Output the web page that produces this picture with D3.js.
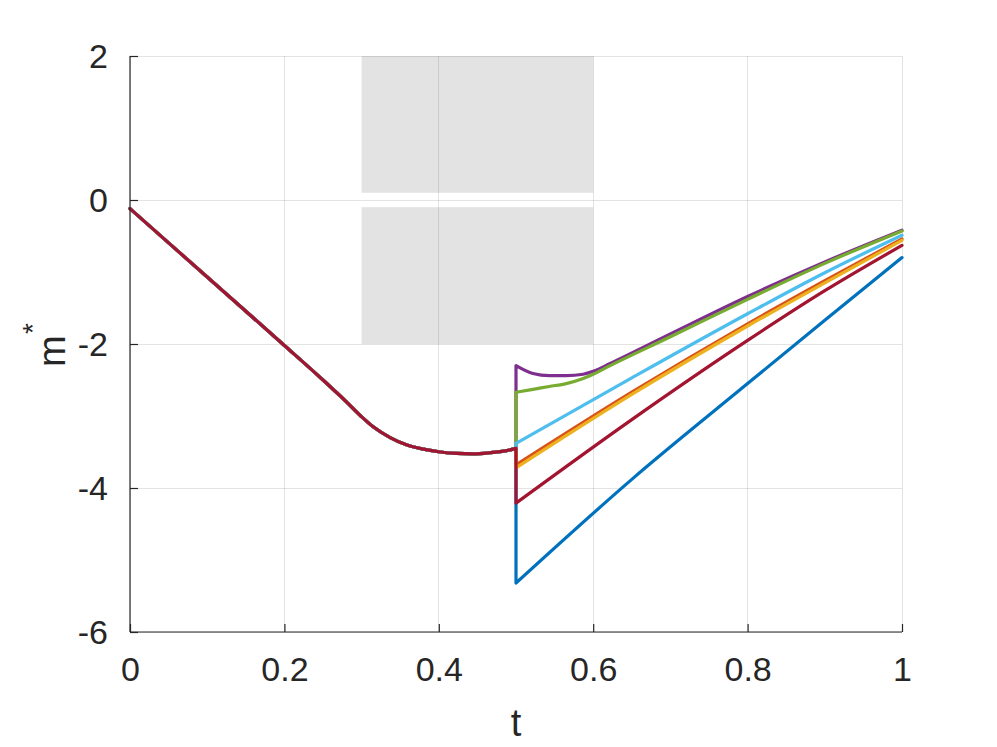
<!DOCTYPE html>
<html><head><meta charset="utf-8">
<script src="https://cdn.jsdelivr.net/npm/d3@7"></script>
<style>body{margin:0;background:#fff}svg{display:block}text{font-family:"Liberation Sans",Arial,sans-serif;fill:#262626}</style>
</head><body>
<script>
// Shared trajectory before the switch at t = 0.5
const tPre = [0, 0.1, 0.2, 0.25, 0.28, 0.3, 0.315, 0.337, 0.358, 0.38, 0.402, 0.423, 0.445, 0.466, 0.488, 0.5];
const mPre = [-0.12, -1.07, -2.02, -2.50, -2.80, -3.01, -3.15, -3.30, -3.40, -3.46, -3.50, -3.52, -3.525, -3.51, -3.48, -3.45];

// Branches after the switch
const seriesNames = ["blue", "orange", "yellow", "purple", "green", "cyan", "darkred"];
const seriesColors = ["#0072BD", "#D95319", "#EDB120", "#7E2F8E", "#77AC30", "#4DBEEE", "#A2142F"];
const tBlue = [0.5, 0.65, 0.8, 0.9, 1];
const mBlue = [-5.32, -3.88, -2.55, -1.67, -0.80];
const tOrange = [0.5, 0.65, 0.8, 0.9, 1];
const mOrange = [-3.68, -2.67, -1.72, -1.12, -0.54];
const tYellow = [0.5, 0.65, 0.8, 0.9, 1];
const mYellow = [-3.72, -2.70, -1.75, -1.15, -0.56];
const tPurple = [0.5, 0.522, 0.543, 0.565, 0.587, 0.6, 0.622, 0.7, 0.8, 0.9, 1];
const mPurple = [-2.30, -2.41, -2.44, -2.44, -2.42, -2.38, -2.27, -1.86, -1.34, -0.86, -0.42];
const tGreen = [0.5, 0.522, 0.543, 0.565, 0.587, 0.6, 0.622, 0.7, 0.8, 0.9, 1];
const mGreen = [-2.67, -2.63, -2.59, -2.55, -2.48, -2.42, -2.30, -1.90, -1.38, -0.88, -0.43];
const tCyan = [0.5, 0.65, 0.8, 0.9, 1];
const mCyan = [-3.38, -2.47, -1.58, -1.01, -0.49];
const tRed = [0.5, 0.65, 0.8, 0.9, 1];
const mRed = [-4.21, -3.05, -1.95, -1.26, -0.63];

// Shaded regions
const bandT = [0.3, 0.6];
const bandUpper = [0.1, 2];
const bandLower = [-2, -0.1];

const xTicks = [0, 0.2, 0.4, 0.6, 0.8, 1];
const yTicks = [-6, -4, -2, 0, 2];

const W = 997, H = 747;
const L = 130, R = 902, T = 56, B = 632;
const x = d3.scaleLinear().domain([0, 1]).range([L, R]);
const y = d3.scaleLinear().domain([-6, 2]).range([B, T]);

const svg = d3.select("body").append("svg").attr("width", W).attr("height", H);

// shaded bands
[bandUpper, bandLower].forEach(b => {
  svg.append("rect")
    .attr("x", x(bandT[0])).attr("width", x(bandT[1]) - x(bandT[0]))
    .attr("y", y(b[1])).attr("height", y(b[0]) - y(b[1]))
    .attr("fill", "#e3e3e3");
});

// grid
const gridColor = "rgba(38,38,38,0.13)";
svg.append("g").selectAll("line").data(xTicks).join("line")
  .attr("x1", d => x(d)).attr("x2", d => x(d)).attr("y1", T).attr("y2", B)
  .attr("stroke", gridColor).attr("stroke-width", 1).attr("shape-rendering", "crispEdges");
svg.append("g").selectAll("line").data(yTicks).join("line")
  .attr("y1", d => y(d)).attr("y2", d => y(d)).attr("x1", L).attr("x2", R)
  .attr("stroke", gridColor).attr("stroke-width", 1).attr("shape-rendering", "crispEdges");

// series
const post = [[tBlue, mBlue], [tOrange, mOrange], [tYellow, mYellow], [tPurple, mPurple], [tGreen, mGreen], [tCyan, mCyan], [tRed, mRed]];
const line = d3.line().x(d => x(d[0])).y(d => y(d[1])).curve(d3.curveMonotoneX);
post.forEach((s, i) => {
  const pre = tPre.map((t, k) => [t, mPre[k]]);
  const br = s[0].map((t, k) => [t, s[1][k]]);
  const path = line(pre) + "L" + x(br[0][0]) + "," + y(br[0][1]) + line(br).replace(/^M[^LC]+/, "");
  svg.append("path").attr("d", path).attr("fill", "none").attr("stroke", seriesColors[i])
    .attr("stroke-width", 3.2).attr("stroke-linejoin", "round").attr("stroke-linecap", "round");
});

// axes
const xAxis = d3.axisBottom(x).tickValues(xTicks).tickSize(-8).tickFormat(d => d3.format("")(d)).tickPadding(25);
const yAxis = d3.axisLeft(y).tickValues(yTicks).tickSize(-8).tickFormat(d => (d < 0 ? "-" + Math.abs(d) : String(d))).tickPadding(22);
const gx = svg.append("g").attr("transform", `translate(0,${B})`).call(xAxis);
const gy = svg.append("g").attr("transform", `translate(${L},0)`).call(yAxis);
[gx, gy].forEach(g => {
  g.select(".domain").attr("stroke", "#262626").attr("stroke-width", 1.2);
  g.selectAll(".tick line").attr("stroke", "#262626").attr("stroke-width", 1.2);
  g.selectAll(".tick text").attr("font-size", 34).attr("fill", "#262626")
    .attr("font-family", "'Liberation Sans', Arial, sans-serif");
});
gx.select(".domain").attr("d", `M${L},0H${R}`);
gy.select(".domain").attr("d", `M0,${B}V${T}`);
gx.selectAll(".tick text").attr("dy", "0.71em");
gy.selectAll(".tick text").attr("dy", "0.35em");

// axis labels
svg.append("text").attr("x", x(0.5)).attr("y", 736).attr("text-anchor", "middle")
  .attr("font-size", 38).text("t");
const yl = svg.append("g").attr("transform", `translate(65,${(T + B) / 2}) rotate(-90)`);
yl.append("text").attr("x", -23).attr("y", 0).attr("font-size", 38).text("m");
yl.append("text").attr("x", 10).attr("y", -23).attr("font-size", 28).text("*");
</script>
</body></html>
